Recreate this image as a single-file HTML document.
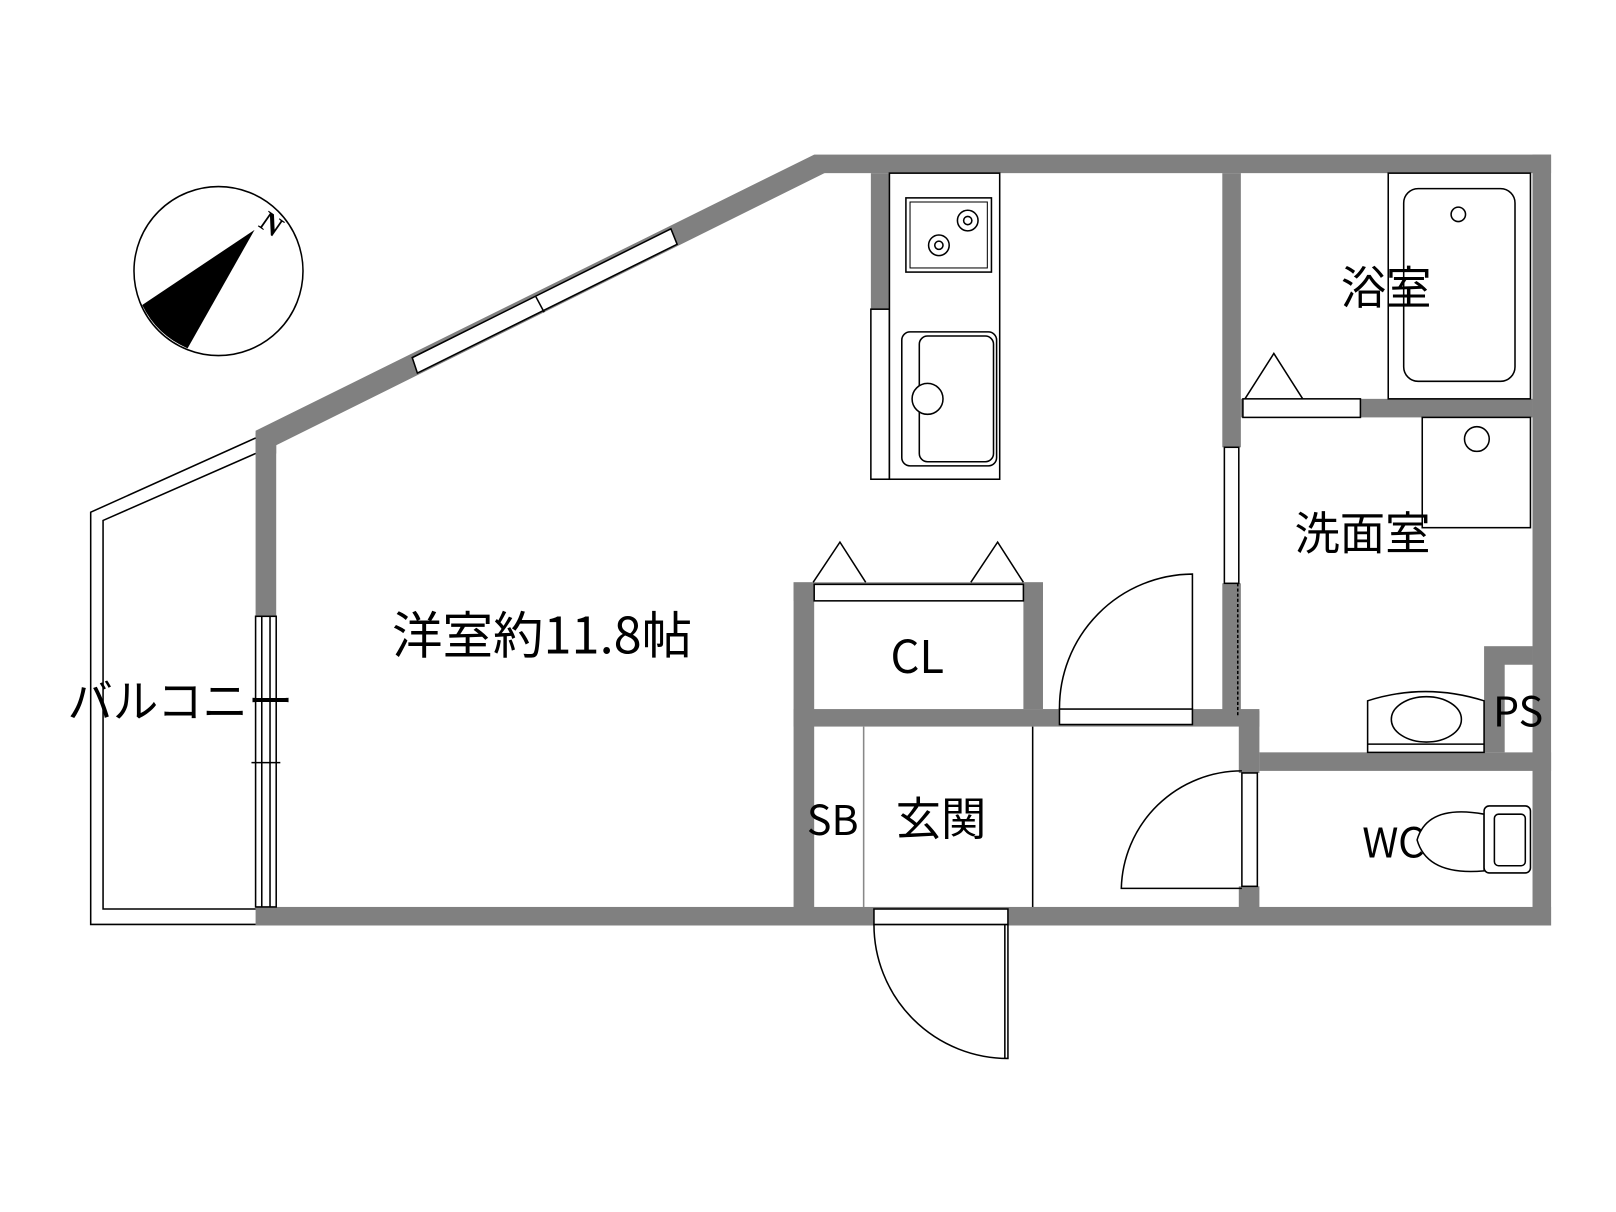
<!DOCTYPE html>
<html><head><meta charset="utf-8"><style>html,body{margin:0;padding:0;background:#fff}svg{display:block}</style></head><body>
<svg width="1616" height="1212" viewBox="0 0 1568 1176" xmlns="http://www.w3.org/2000/svg" font-family="'Noto Sans CJK JP','Liberation Sans',sans-serif">
<rect width="1568" height="1176" fill="#fff"/>
<g fill="#808080">
<polygon points="248,418 790,150 800,168 268,432 268,440 248,440"/>
<rect x="790" y="150" width="715" height="18"/>
<rect x="1487" y="150" width="18" height="748"/>
<rect x="248" y="880" width="1257" height="18"/>
<rect x="248" y="420" width="20" height="178"/>
<rect x="845" y="168" width="18" height="132"/>
<rect x="1186" y="168" width="18" height="266"/>
<rect x="1186" y="566" width="18" height="124"/>
<rect x="1204" y="387" width="283" height="18"/>
<rect x="1202" y="690" width="20" height="60"/>
<rect x="1202" y="860" width="20" height="30"/>
<rect x="1222" y="730" width="283" height="18"/>
<rect x="1440" y="627" width="47" height="103"/>
<rect x="770" y="565" width="20" height="330"/>
<rect x="770" y="565" width="242" height="18"/>
<rect x="993" y="565" width="19" height="123"/>
<rect x="770" y="688" width="452" height="17"/>
</g>
<g fill="#fff" stroke="#000" stroke-width="1.5">
<polygon points="400,347 651,222 657,237 405,362"/>
<line x1="520" y1="288" x2="528" y2="303"/>
<rect x="248" y="598" width="20" height="282"/>
<line x1="254" y1="598" x2="254" y2="880"/><line x1="262" y1="598" x2="262" y2="880"/>
<line x1="244" y1="740" x2="272" y2="740"/>
<rect x="845" y="300" width="18" height="165"/>
<rect x="863" y="168" width="107" height="297"/>
<rect x="879" y="192" width="83" height="72"/>
<rect x="883" y="196" width="75" height="64" fill="none" stroke-width="1"/>
<circle cx="911" cy="238" r="10"/><circle cx="911" cy="238" r="4"/>
<circle cx="939" cy="214" r="10"/><circle cx="939" cy="214" r="4"/>
<rect x="875" y="322" width="92" height="130" rx="8"/>
<rect x="892" y="326" width="72" height="122" rx="8" fill="none"/>
<circle cx="900" cy="387" r="15"/>
<rect x="1347" y="168" width="138" height="219"/>
<rect x="1362" y="183" width="108" height="187" rx="14"/>
<circle cx="1415" cy="208" r="7"/>
<rect x="1206" y="387" width="114" height="18"/>
<polyline points="1208,387 1236,343 1264,387" fill="none"/>
<rect x="1380" y="405" width="105" height="107"/>
<circle cx="1433" cy="426" r="12"/>
<rect x="1188" y="434" width="14" height="132"/>
<line x1="1201" y1="566" x2="1201" y2="695" stroke-dasharray="3,2"/>
<rect x="1460" y="645" width="27" height="85" stroke="none"/>
<path d="M1327,730 L1327,680 Q1383,662 1440,680 L1440,730 Z"/>
<ellipse cx="1384" cy="698" rx="34" ry="22"/>
<line x1="1327" y1="722" x2="1440" y2="722"/>
<rect x="1205" y="750" width="15" height="110"/>
<path d="M1205,862 L1088,862 A117,117 0 0 1 1205,748" fill="none"/>
<path d="M1440,790 Q1385,780 1375,815 Q1385,850 1440,845 Z"/>
<rect x="1440" y="782" width="45" height="65" rx="5"/>
<rect x="1450" y="790" width="30" height="50" rx="4" fill="none"/>
<rect x="790" y="567" width="203" height="16"/>
<polyline points="789,565 815,526 840,565" fill="none"/>
<polyline points="942,565 968,526 993,565" fill="none"/>
<rect x="1028" y="688" width="129" height="15"/>
<path d="M1028,688 A130,130 0 0 1 1157,557 L1157,688" fill="none"/>
<line x1="838" y1="705" x2="838" y2="880" stroke="#888"/>
<line x1="1002" y1="705" x2="1002" y2="880"/>
<rect x="848" y="882" width="130" height="15"/>
<path d="M848,897 A130,130 0 0 0 978,1027 L978,897" fill="none"/>
<line x1="975" y1="897" x2="975" y2="1027"/>
</g>
<g fill="none" stroke="#000" stroke-width="1.5">
<polyline points="248,425 88,497 88,897 248,897"/>
<polyline points="248,440 100,505 100,882 248,882"/>
<circle cx="212" cy="263" r="82"/>
</g>
<path d="M247,223 L138,296 Q152,325 182,338 Z" fill="#000"/>
<text x="258" y="225" font-size="28" font-family="'Liberation Serif',serif" font-weight="bold" transform="rotate(35 258 225)" text-anchor="middle">N</text>
<g font-size="44" fill="#000" text-anchor="middle">
<text x="526" y="634" font-size="49">洋室約11.8帖</text>
<text x="175" y="696">バルコニー</text>
<text x="890" y="653">CL</text>
<text x="1345" y="295">浴室</text>
<text x="1322" y="533">洗面室</text>
<text x="1473" y="705" font-size="40">PS</text>
<text x="808" y="810" font-size="40">SB</text>
<text x="913" y="810">玄関</text>
<text x="1352" y="832" font-size="40">WC</text>
</g>
</svg>
</body></html>
